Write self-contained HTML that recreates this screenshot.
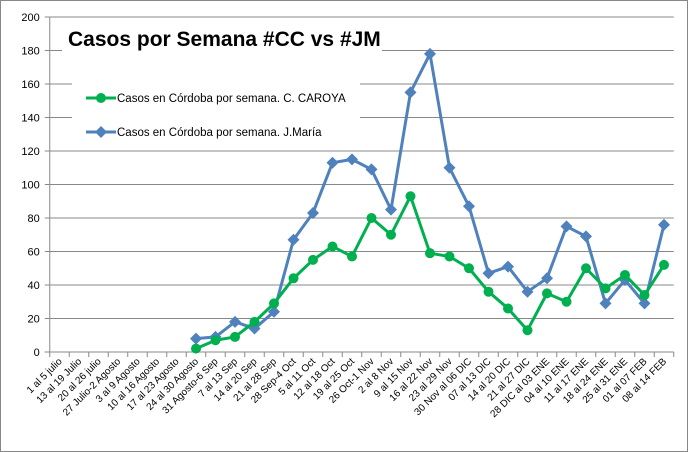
<!DOCTYPE html><html><head><meta charset="utf-8"><style>body{margin:0;background:#fff}svg{display:block}</style></head><body>
<svg width="688" height="452" xmlns="http://www.w3.org/2000/svg" font-family="Liberation Sans, sans-serif">
<rect x="0.5" y="0.5" width="687" height="451" fill="#fff" stroke="#888"/>
<g id="g"></g>
<script>
const S='http://www.w3.org/2000/svg',g=document.getElementById('g');
function el(t,a,txt){const e=document.createElementNS(S,t);for(const k in a)e.setAttribute(k,a[k]);if(txt!=null)e.textContent=txt;g.appendChild(e);return e;}
const L=49.75,R=673.75,Y0=352,Y200=17,cw=19.5;
const y=v=>Y0-(Y0-Y200)*v/200, x=i=>L+cw*(i+0.5);
for(let v=0;v<=200;v+=20){if(v>0)el('line',{x1:L,x2:R,y1:y(v),y2:y(v),stroke:'#888','stroke-width':1});
el('line',{x1:L-5,x2:L,y1:y(v),y2:y(v),stroke:'#888'});
el('text',{x:L-10,y:y(v)+4,'text-anchor':'end','font-size':11,fill:'#000'},v);}
el('line',{x1:L,x2:L,y1:Y200,y2:Y0,stroke:'#888'});
el('line',{x1:L,x2:R,y1:Y0,y2:Y0,stroke:'#888'});
const cats=["1 al 5 julio","13 al 19 Julio","20 al 26 julio","27 Julio-2 Agosto","3 al 9 Agosto","10 al 16 Agosto","17 al 23 Agosto","24 al 30 Agosto","31 Agosto-6 Sep","7 al 13 Sep","14 al 20 Sep","21 al 28 Sep","28 Sep-4 Oct","5 al 11 Oct","12 al 18 Oct","19 al 25 Oct","26 Oct-1 Nov","2 al 8 Nov","9 al 15 Nov","16 al 22 Nov","23 al 29 Nov","30 Nov al 06 DIC","07 al 13 DIC","14 al 20 DIC","21 al 27 DIC","28 DIC al 03 ENE","04 al 10 ENE","11 al 17 ENE","18 al 24 ENE","25 al 31 ENE","01 al 07 FEB","08 al 14 FEB"];
for(let i=0;i<=32;i++)el('line',{x1:L+cw*i,x2:L+cw*i,y1:Y0,y2:Y0+5,stroke:'#888'});
cats.forEach((c,i)=>{const cx=x(i)+3,cy=Y0+10;el('text',{x:cx,y:cy,'text-anchor':'end','font-size':10,transform:`rotate(-45 ${cx} ${cy})`},c);});
const gr=[2,7,9,18,29,44,55,63,57,80,70,93,59,57,50,36,26,13,35,30,50,38,46,34,52];
const bl=[8,9,18,14,24,67,83,113,115,109,85,155,178,110,87,47,51,36,44,75,69,29,43,29,76];
function series(d,col,dia){el('polyline',{points:d.map((v,k)=>x(k+7)+','+y(v)).join(' '),fill:'none',stroke:col,'stroke-width':3,'stroke-linejoin':'round'});
d.forEach((v,k)=>{const cx=x(k+7),cy=y(v);if(dia)el('polygon',{points:`${cx},${cy-6} ${cx+6},${cy} ${cx},${cy+6} ${cx-6},${cy}`,fill:col});else el('circle',{cx,cy,r:5,fill:col});});}
series(bl,'#4f81bd',true);series(gr,'#00b050',false);
el('rect',{x:72,y:66,width:288,height:84,fill:'#fff'});
el('line',{x1:86,x2:116,y1:98,y2:98,stroke:'#00b050','stroke-width':3});el('circle',{cx:101,cy:98,r:5,fill:'#00b050'});
el('text',{x:117,y:102,'font-size':11.5},'Casos en Córdoba por semana. C. CAROYA');
el('line',{x1:86,x2:116,y1:132,y2:132,stroke:'#4f81bd','stroke-width':3});el('polygon',{points:'101,126 107,132 101,138 95,132',fill:'#4f81bd'});
el('text',{x:117,y:136,'font-size':11.5},'Casos en Córdoba por semana. J.María');
el('rect',{x:62,y:20,width:320,height:32,fill:'#fff'});
el('text',{x:68,y:46,'font-size':21,'font-weight':'bold'},'Casos por Semana #CC vs #JM');
</script>
</svg></body></html>
